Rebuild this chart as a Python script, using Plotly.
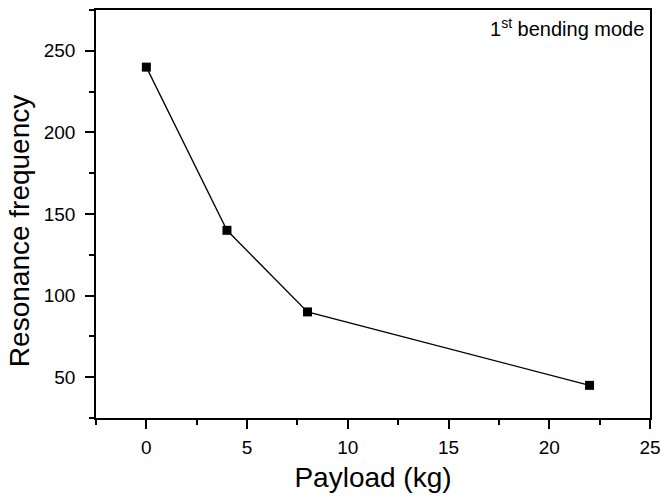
import plotly.graph_objects as go

payload = [0, 4, 8, 22]
frequency = [240, 140, 90, 45]

x_title = "Payload (kg)"
y_title = "Resonance frequency"
note = "1<sup>st</sup> bending mode"

FONT = "Liberation Sans, Arial, sans-serif"

fig = go.Figure()
fig.add_trace(go.Scatter(
    x=payload, y=frequency, mode="lines+markers",
    line=dict(color="black", width=1.3),
    marker=dict(symbol="square", size=9, color="black"),
    showlegend=False,
))

axis_common = dict(
    showline=True, linecolor="black", linewidth=1.5, mirror=True,
    ticks="outside", ticklen=9, tickwidth=1.5, tickcolor="black",
    showgrid=False, zeroline=False, automargin=False,
    tickfont=dict(family=FONT, size=19, color="black"),
)

fig.update_xaxes(
    range=[-2.5, 25], tick0=0, dtick=5, ticklabelstandoff=2,
    minor=dict(ticks="outside", ticklen=5, dtick=2.5, tick0=0, tickwidth=1.5, tickcolor="black", showgrid=False),
    title=dict(text=x_title, font=dict(family=FONT, size=28, color="black"), standoff=11),
    **axis_common,
)
fig.update_yaxes(
    range=[25, 275], tick0=0, dtick=50, ticklabelstandoff=6,
    minor=dict(ticks="outside", ticklen=5, dtick=25, tick0=0, tickwidth=1.5, tickcolor="black", showgrid=False),
    **axis_common,
)

fig.add_annotation(
    text=y_title, textangle=-90, xref="paper", yref="paper",
    x=-0.139, y=0.458, xanchor="center", yanchor="middle", showarrow=False,
    font=dict(family=FONT, size=28, color="black"),
)
fig.add_annotation(
    text=note, xref="paper", yref="paper", x=0.993, y=0.993,
    xanchor="right", yanchor="top", showarrow=False,
    font=dict(family=FONT, size=20, color="black"),
)

fig.update_layout(
    width=661, height=498,
    margin=dict(l=96, r=11, t=10, b=80, autoexpand=False),
    plot_bgcolor="white", paper_bgcolor="white",
)

# remove the page's default body margin so the figure fills the window exactly
fig.write_html(
    "out.html",
    config={"displayModeBar": False},
    post_script="document.body.style.margin='0';",
)
